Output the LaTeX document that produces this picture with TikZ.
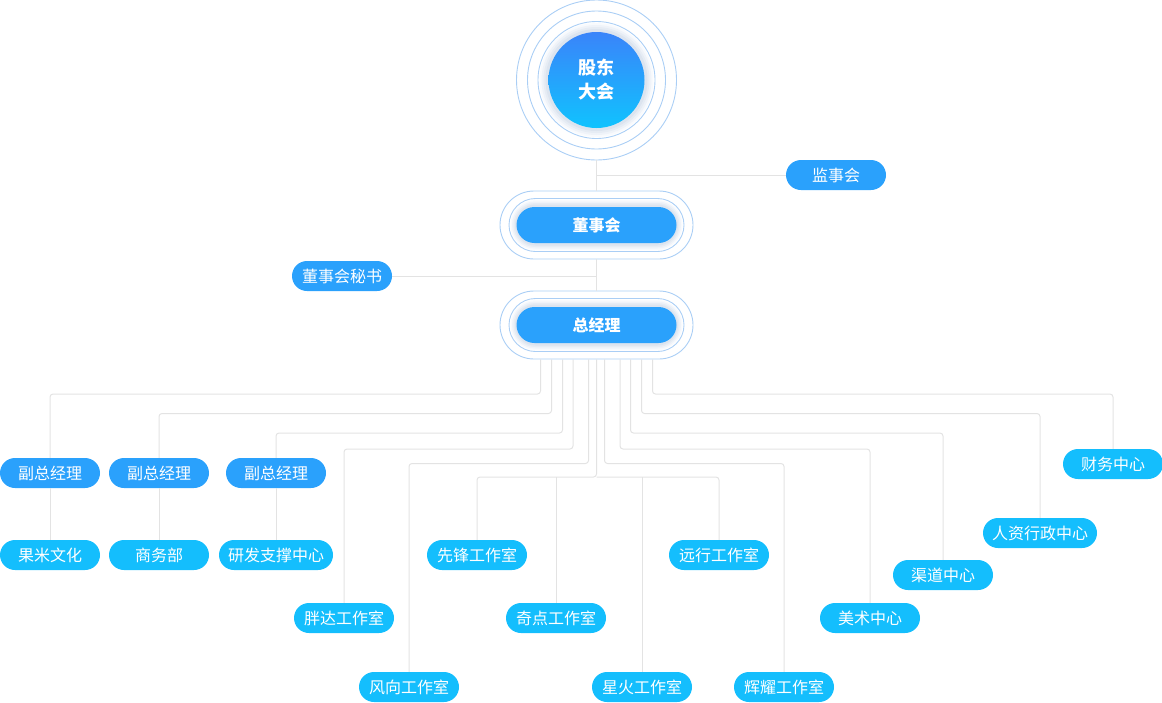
\documentclass[tikz,border=0pt]{standalone}
\usepackage{fontspec}
\newfontfamily\cjk{Noto Sans CJK SC}
\usepackage{xcolor}
\usetikzlibrary{positioning,calc}
\definecolor{upblue}{HTML}{2AA1FC}
\definecolor{lowcyan}{HTML}{14BEFD}
\definecolor{linegray}{HTML}{E3E3E3}
\definecolor{ringblue}{HTML}{AACEF5}
\definecolor{circtop}{HTML}{3A84FA}
\definecolor{circbot}{HTML}{10C3FE}
\definecolor{glowA}{HTML}{F8FAFD}
\definecolor{glowB}{HTML}{EFF3F9}
\definecolor{glowC}{HTML}{E6ECF4}
\definecolor{glowD}{HTML}{DCE4EF}

\begin{document}
\begin{tikzpicture}[x=1pt,y=-1pt,
  line/.style={draw=linegray,line width=1pt,rounded corners=3pt},
  ring/.style={draw=ringblue,line width=0.9pt},
  tag/.style={rounded corners=15pt,minimum width=100pt,minimum height=30pt,inner xsep=9pt,inner ysep=0pt,text=white,font=\cjk\fontsize{16}{16}\selectfont},
  upper/.style={tag,fill=upblue},
  lower/.style={tag,fill=lowcyan}]
\useasboundingbox (0,0) rectangle (1162,702);

% shareholders
\node[ring,circle,minimum size=160pt,inner sep=0pt] (gdh) at (596.5,80) {};
\draw[ring] (gdh) circle[radius=69];
\foreach \r/\c in {57/glowA,55/glowB,53/glowC,51/glowD}
  \fill[\c] (gdh) circle[radius=\r];
\draw[ring] (gdh) circle[radius=58.5];
\shade[top color=circtop,bottom color=circbot] (gdh) circle[radius=48];
\node[text=white,align=center,font=\cjk\bfseries\fontsize{18}{24}\selectfont] (gdh-t) at (gdh) {股东\\大会};

% board and manager
\foreach \nm/\yy/\txt in {dsh/225/董事会,zjl/325/总经理}{
  \node[ring,rounded corners=34pt,minimum width=193pt,minimum height=68pt] (\nm) at (596.5,\yy) {};
  \foreach \w/\h/\c in {86/25/glowA,84.5/23.5/glowB,83/22/glowC,81.5/20.5/glowD}
    \fill[\c,rounded corners=\h pt] ($(\nm)+(-\w,-\h)$) rectangle ($(\nm)+(\w,\h)$);
  \node[ring,rounded corners=26.5pt,minimum width=175pt,minimum height=53pt] (\nm-r) at (\nm) {};
  \node[fill=upblue,rounded corners=18pt,minimum width=160pt,minimum height=36pt,text=white,font=\cjk\bfseries\fontsize{16}{16}\selectfont] (\nm-t) at (\nm) {\txt};
}

\node[upper] (jsh) at (836,175) {监事会};
\node[upper] (msh) at (342,276) {董事会秘书};

\node[upper] (fz1) at (50,473) {副总经理};
\node[upper] (fz2) at (159,473) {副总经理};
\node[upper] (fz3) at (276,473) {副总经理};

\node[lower] (gm) at (50,555) {果米文化};
\node[lower] (swb) at (159,555) {商务部};
\node[lower] (yf) at (276,555) {研发支撑中心};
\node[lower] (xf) at (477,555) {先锋工作室};
\node[lower] (yx) at (719,555) {远行工作室};
\node[lower] (pd) at (344,618) {胖达工作室};
\node[lower] (qd) at (556,618) {奇点工作室};
\node[lower] (ms) at (870,618) {美术中心};
\node[lower] (fx) at (409,687) {风向工作室};
\node[lower] (xh) at (642,687) {星火工作室};
\node[lower] (hy) at (784,687) {辉耀工作室};
\node[lower] (qdzx) at (943,575) {渠道中心};
\node[lower] (rz) at (1040,533) {人资行政中心};
\node[lower] (cw) at (1113,464) {财务中心};

% connectors
\draw[line] (gdh.south) -- (dsh.north);
\draw[line] (jsh.west) -- (jsh.west -| gdh.south);
\draw[line] (dsh.south) -- (zjl.north);
\draw[line] (msh.east) -- (msh.east -| dsh.south);

\foreach \dx/\lv/\tgt in {-56/394/fz1,-45/413.5/fz2,-34/433/fz3,-23.5/449/pd,-8/463.5/fx,8/463.5/hy,23.5/449/ms,34/433/qdzx,45/413.5/rz,56/394/cw}
  \draw[line] ($(zjl.south)+(\dx,0)$) |- (\tgt.north |- 0,\lv) -- (\tgt.north);

\draw[line] (xf.north) |- (zjl.south |- 0,477) -- (zjl.south);
\draw[line] (yx.north) |- (zjl.south |- 0,477);
\draw[line] (qd.north) -- (qd.north |- 0,477);
\draw[line] (xh.north) -- (xh.north |- 0,477);

\foreach \a/\b in {fz1/gm,fz2/swb,fz3/yf}
  \draw[line] (\a.south) -- (\b.north);
\end{tikzpicture}
\end{document}
